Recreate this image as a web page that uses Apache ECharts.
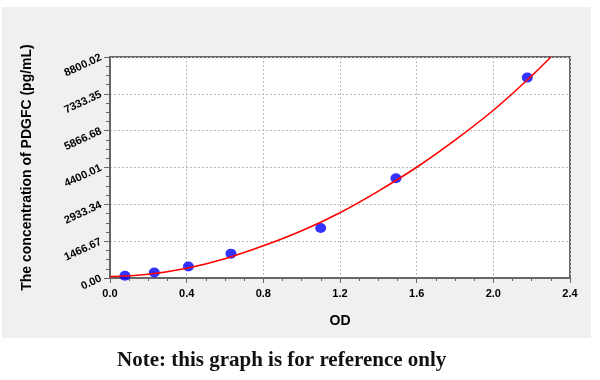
<!DOCTYPE html>
<html>
<head>
<meta charset="utf-8">
<script src="https://cdn.jsdelivr.net/npm/echarts@6/dist/echarts.min.js"></script>
<style>
  html, body { margin: 0; padding: 0; background: #ffffff; }
  #wrap { position: relative; width: 600px; height: 380px; }
  #panel { position: absolute; left: 2px; top: 7px; width: 589px; height: 331px; background: #f0f0f0; }
  #chart { position: absolute; left: 0; top: 0; width: 600px; height: 380px; }
</style>
</head>
<body>
<div id="wrap">
  <div id="panel"></div>
  <div id="chart"></div>
</div>
<script>
// Standard points (OD, concentration)
const pointOD = [0.078, 0.231, 0.409, 0.631, 1.099, 1.492, 2.177];
const pointConc = [90, 220, 460, 970, 1990, 3970, 7980];
// Fitted curve
const curveOD = [0, 0.2, 0.4, 0.6, 0.8, 1.0, 1.2, 1.4, 1.6, 1.8, 2.0, 2.2, 2.3];
const curveConc = [60, 150, 390, 770, 1280, 1880, 2600, 3460, 4410, 5490, 6680, 8050, 8800];
// Axis ticks
const xTicks = [0.0, 0.4, 0.8, 1.2, 1.6, 2.0, 2.4];
const yTicks = [0.00, 1466.67, 2933.34, 4400.01, 5866.68, 7333.35, 8800.02];

const chart = echarts.init(document.getElementById('chart'), null, { renderer: 'canvas' });
const axisColor = '#666666';
const font = 'Liberation Sans, Arial, sans-serif';

chart.setOption({
  backgroundColor: 'transparent',
  animation: false,
  grid: {
    left: 110, top: 57, right: 30, bottom: 102,
    show: true, backgroundColor: '#ffffff', borderColor: axisColor, borderWidth: 2
  },
  xAxis: {
    type: 'value',
    min: xTicks[0], max: xTicks[xTicks.length - 1], interval: xTicks[1] - xTicks[0],
    name: 'OD', nameLocation: 'middle', nameGap: 36,
    nameTextStyle: { fontFamily: font, fontWeight: 'bold', fontSize: 14, color: '#000' },
    axisLine: { show: true, lineStyle: { color: axisColor, width: 2 } },
    axisTick: { show: true, inside: false, length: 5, lineStyle: { color: axisColor } },
    minorTick: { show: true, splitNumber: 4, length: 3, lineStyle: { color: axisColor } },
    axisLabel: { fontFamily: font, fontWeight: 'bold', fontSize: 11, color: '#000', margin: 10,
      formatter: v => v.toFixed(1) },
    splitLine: { show: true, lineStyle: { color: '#bbbbbb', type: [2, 2], width: 1 } }
  },
  yAxis: {
    type: 'value',
    min: yTicks[0], max: yTicks[yTicks.length - 1], interval: yTicks[1] - yTicks[0],
    name: 'The concentration of PDGFC (pg/mL)', nameLocation: 'middle', nameGap: 76,
    nameTextStyle: { fontFamily: font, fontWeight: 'bold', fontSize: 14, color: '#000' },
    axisLine: { show: true, lineStyle: { color: axisColor, width: 2 } },
    axisTick: { show: true, inside: false, length: 6, lineStyle: { color: axisColor } },
    minorTick: { show: true, splitNumber: 4, length: 4, lineStyle: { color: axisColor } },
    axisLabel: { fontFamily: font, fontWeight: 'bold', fontSize: 11, color: '#000', margin: 9, rotate: 25,
      formatter: v => v.toFixed(2) },
    splitLine: { show: true, lineStyle: { color: '#bbbbbb', type: [2, 2], width: 1 } }
  },
  series: [
    {
      type: 'line',
      data: curveOD.map((x, i) => [x, curveConc[i]]),
      smooth: 0.4,
      showSymbol: false,
      clip: true,
      lineStyle: { color: '#ff0000', width: 1.6 },
      z: 3
    },
    {
      type: 'scatter',
      data: pointOD.map((x, i) => [x, pointConc[i]]),
      symbol: 'circle',
      symbolSize: [11, 10],
      itemStyle: { color: '#0000ff' },
      z: 2
    }
  ],
  graphic: [
    {
      type: 'text',
      left: 117, top: 350,
      style: {
        text: 'Note: this graph is for reference only',
        font: 'bold 21px "Liberation Serif", "DejaVu Serif", serif',
        fill: '#111111'
      }
    }
  ]
});
</script>
</body>
</html>
